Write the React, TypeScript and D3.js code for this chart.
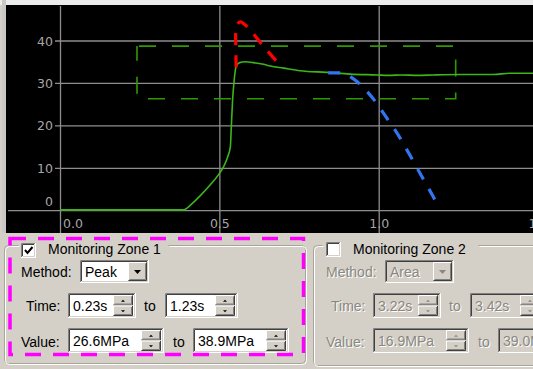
import * as d3 from "d3";

const W = 533;
const H = 369;

// axis ticks
const xTicks = [0, 0.5, 1.0, 1.5];
const yTicks = [0, 10, 20, 30, 40];

// measured pressure curve (s, MPa)
const pressTime = [0, 0.386, 0.412, 0.438, 0.47, 0.496, 0.512, 0.525, 0.533, 0.536, 0.54, 0.545, 0.551, 0.562, 0.58, 0.606, 0.637, 0.658, 0.7, 0.752, 0.836, 0.909, 0.992, 1.03, 1.07, 1.12, 1.17, 1.253, 1.357, 1.41, 1.49];
const pressValue = [0.2, 0.2, 1.6, 3.5, 6.1, 8.5, 10.4, 12.8, 15.1, 19.8, 26.1, 30.8, 34.0, 34.9, 35.1, 34.9, 34.5, 34.1, 33.6, 33.0, 32.6, 32.2, 32.0, 31.9, 32.0, 31.9, 32.0, 32.1, 32.1, 32.4, 32.4];

// red overshoot path
const peakTime = [0.551, 0.55, 0.55, 0.555, 0.564, 0.576, 0.595, 0.633, 0.683];
const peakValue = [33.8, 39.1, 42.6, 44.0, 44.5, 44.0, 42.6, 39.1, 34.8];

// blue drop path
const dropTime = [0.84, 0.877, 0.924, 0.952, 0.98, 1.024, 1.061, 1.097, 1.132, 1.168, 1.178];
const dropValue = [32.5, 32.5, 30.8, 28.9, 26.5, 21.8, 17.7, 13.0, 8.3, 3.5, 2.1];

// monitoring zone rectangle
const zoneTime = [0.24, 1.24];
const zoneValue = [26.4, 38.8];

// panel texts
const zoneTitles = ["Monitoring Zone 1", "Monitoring Zone 2"];
const methods = ["Peak", "Area"];
const timeFrom = ["0.23s", "3.22s"];
const timeTo = ["1.23s", "3.42s"];
const valueFrom = ["26.6MPa", "16.9MPa"];
const valueTo = ["38.9MPa", "39.0MPa"];

const FACE = "#d4d0c8";
const UI_FONT = "Liberation Sans, Arial, sans-serif";

const Label = ({ x, y, text, disabled = false }: any) =>
  disabled ? (
    <g fontFamily={UI_FONT} fontSize={14}>
      <text x={x + 1} y={y + 1} fill="#ffffff">{text}</text>
      <text x={x} y={y} fill="#8a877f">{text}</text>
    </g>
  ) : (
    <text x={x} y={y} fontFamily={UI_FONT} fontSize={14} fill="#000">{text}</text>
  );

const Sunken = ({ x, y, w, h, fill }: any) => (
  <g fill="none" strokeWidth={1}>
    <rect x={x} y={y} width={w} height={h} fill={fill} />
    <path d={`M${x + 0.5},${y + h - 1}V${y + 0.5}H${x + w - 1}`} stroke="#808080" />
    <path d={`M${x + 1.5},${y + h - 2}V${y + 1.5}H${x + w - 2}`} stroke="#404040" />
    <path d={`M${x + 0.5},${y + h - 0.5}H${x + w - 0.5}V${y + 0.5}`} stroke="#ffffff" />
    <path d={`M${x + 1.5},${y + h - 1.5}H${x + w - 1.5}V${y + 1.5}`} stroke={FACE} />
  </g>
);

const Raised = ({ x, y, w, h }: any) => (
  <g fill="none" strokeWidth={1}>
    <rect x={x} y={y} width={w} height={h} fill={FACE} />
    <path d={`M${x + 0.5},${y + h - 1}V${y + 0.5}H${x + w - 1}`} stroke="#ffffff" />
    <path d={`M${x + 0.5},${y + h - 0.5}H${x + w - 0.5}V${y + 0.5}`} stroke="#404040" />
    <path d={`M${x + 1.5},${y + h - 1.5}H${x + w - 1.5}V${y + 1.5}`} stroke="#808080" />
  </g>
);

const Spinner = ({ x, y, w, h, disabled }: any) => {
  const hh = h / 2;
  const cx = x + w / 2;
  const col = disabled ? "#8a877f" : "#000";
  return (
    <g>
      <Raised x={x} y={y} w={w} h={hh} />
      <Raised x={x} y={y + hh} w={w} h={hh} />
      <path d={`M${cx - 2},${y + hh / 2 + 1.5}h4l-2,-2z`} fill={col} />
      <path d={`M${cx - 2},${y + hh + hh / 2 - 0.5}h4l-2,2z`} fill={col} />
    </g>
  );
};

const Field = ({ x, y, w, text, disabled }: any) => (
  <g>
    <Sunken x={x} y={y} w={w} h={25} fill={disabled ? FACE : "#ffffff"} />
    <Label x={x + 5} y={y + 18} text={text} disabled={disabled} />
    <Spinner x={x + w - 23} y={y + 2} w={20} h={21} disabled={disabled} />
  </g>
);

const Combo = ({ x, y, w, text, disabled }: any) => (
  <g>
    <Sunken x={x} y={y} w={w} h={23} fill={disabled ? FACE : "#ffffff"} />
    <Label x={x + 5} y={y + 17} text={text} disabled={disabled} />
    <Raised x={x + w - 21} y={y + 2} w={19} h={19} />
    <path d={`M${x + w - 15},${y + 10}h7l-3.5,4z`} fill={disabled ? "#8a877f" : "#000"} />
  </g>
);

const CheckBox = ({ x, y, checked }: any) => (
  <g>
    <Sunken x={x} y={y} w={15} h={15} fill="#ffffff" />
    {checked && (
      <path d={`M${x + 4},${y + 7}l2.5,3l5,-6`} fill="none" stroke="#000" strokeWidth={2} />
    )}
  </g>
);

const Group = ({ x, y, w, h, gapFrom, gapTo }: any) => {
  const r = 4;
  const d = `M${gapTo},${y}H${x + w - r}Q${x + w},${y} ${x + w},${y + r}V${y + h - r}Q${x + w},${y + h} ${x + w - r},${y + h}H${x + r}Q${x},${y + h} ${x},${y + h - r}V${y + r}Q${x},${y} ${x + r},${y}H${gapFrom}`;
  return (
    <g fill="none">
      <path d={d} stroke="#a8a49c" strokeWidth={1} transform="translate(0.5,0.5)" />
      <path d={d} stroke="#ffffff" strokeWidth={1} transform="translate(1.5,1.5)" />
    </g>
  );
};

const Zone = ({ i, ox }: any) => {
  const dis = i === 1;
  return (
    <g>
      <Label x={ox + 0} y={277} text="Method:" disabled={dis} />
      <Combo x={ox + 59} y={260} w={69} text={methods[i]} disabled={dis} />
      <Label x={ox + 5} y={311} text="Time:" disabled={dis} />
      <Field x={ox + 47} y={293} w={68} text={timeFrom[i]} disabled={dis} />
      <Label x={ox + 123} y={311} text="to" disabled={dis} />
      <Field x={ox + 144} y={293} w={73} text={timeTo[i]} disabled={dis} />
      <Label x={ox + 0} y={347} text="Value:" disabled={dis} />
      <Field x={ox + 47} y={328} w={96} text={valueFrom[i]} disabled={dis} />
      <Label x={ox + 152} y={347} text="to" disabled={dis} />
      <Field x={ox + 172} y={328} w={96} text={valueTo[i]} disabled={dis} />
    </g>
  );
};

export default function App() {
  const x = d3.scaleLinear().domain([0, 1]).range([60.5, 379.2]);
  const y = d3.scaleLinear().domain([0, 40]).range([210.7, 41]);

  const press = d3
    .line<number>()
    .x((_, i) => x(pressTime[i]))
    .y((d) => y(d))
    .curve(d3.curveMonotoneX)(pressValue);
  const peak = d3
    .line<number>()
    .x((_, i) => x(peakTime[i]))
    .y((d) => y(d))
    .curve(d3.curveCatmullRom.alpha(0.5))(peakValue);
  const drop = d3
    .line<number>()
    .x((_, i) => x(dropTime[i]))
    .y((d) => y(d))
    .curve(d3.curveMonotoneX)(dropValue);

  const top = 5;
  const bottom = 233;

  return (
    <svg
      width={W}
      height={H}
      style={{ position: "absolute", left: 0, top: 0, display: "block" }}
    >
      <defs>
        <clipPath id="plot">
          <rect x={6} y={top} width={W - 6} height={bottom - top} />
        </clipPath>
      </defs>
      <rect width={W} height={H} fill={FACE} />
      <rect width={W} height={5} fill="#ececec" />
      <rect x={2} y={0} width={4} height={bottom} fill="#c8c8c8" />
      <rect x={6} y={top} width={W - 6} height={bottom - top} fill="#000" />

      <g clipPath="url(#plot)">
        {yTicks.map((t) => (
          <line
            key={"gy" + t}
            x1={t === 0 ? 8 : 55}
            x2={W}
            y1={y(t)}
            y2={y(t)}
            stroke="#8e8e8e"
            strokeWidth={1.3}
          />
        ))}
        {xTicks.map((t) => (
          <line
            key={"gx" + t}
            x1={x(t)}
            x2={x(t)}
            y1={top + 1}
            y2={bottom}
            stroke="#8e8e8e"
            strokeWidth={1.3}
          />
        ))}
        {yTicks.map((t) => (
          <text
            key={"ty" + t}
            x={53}
            y={t === 0 ? y(t) - 9 : y(t)}
            dominantBaseline="central"
            textAnchor="end"
            fontFamily="DejaVu Sans, sans-serif"
            fontSize={12.5}
            fill="#a6a6a6"
          >
            {t}
          </text>
        ))}
        {xTicks.map((t, i) => (
          <text
            key={"tx" + t}
            x={i === 0 ? x(t) + 2.5 : x(t)}
            y={228}
            textAnchor={i === 0 ? "start" : "middle"}
            fontFamily="DejaVu Sans, sans-serif"
            fontSize={12.5}
            fill="#a6a6a6"
          >
            {t.toFixed(1)}
          </text>
        ))}

        <rect
          x={x(zoneTime[0])}
          y={y(zoneValue[1])}
          width={x(zoneTime[1]) - x(zoneTime[0])}
          height={y(zoneValue[0]) - y(zoneValue[1])}
          fill="none"
          stroke="#2f9a00"
          strokeWidth={1.6}
          strokeDasharray="17 16"
          strokeDashoffset={-2}
        />
        <path d={press || ""} fill="none" stroke="#3db51a" strokeWidth={1.6} />
        <path
          d={peak || ""}
          fill="none"
          stroke="#ff0000"
          strokeWidth={3.2}
          strokeDasharray="12 10"
        />
        <path
          d={drop || ""}
          fill="none"
          stroke="#3574f0"
          strokeWidth={3.2}
          strokeDasharray="12 11"
        />
      </g>

      <Group x={4} y={245} w={301} h={118} gapFrom={18} gapTo={168} />
      <Group x={313} y={245} w={240} h={120} gapFrom={322} gapTo={478} />

      <CheckBox x={21} y={243} checked={true} />
      <Label x={48} y={253.5} text={zoneTitles[0]} />
      <CheckBox x={326} y={242} checked={false} />
      <Label x={353} y={253.5} text={zoneTitles[1]} />

      <Zone i={0} ox={21} />
      <Zone i={1} ox={326} />

      <rect
        x={10}
        y={238.5}
        width={293.5}
        height={116}
        fill="none"
        stroke="#ff00ff"
        strokeWidth={3.5}
        strokeDasharray="16 12"
      />
    </svg>
  );
}
